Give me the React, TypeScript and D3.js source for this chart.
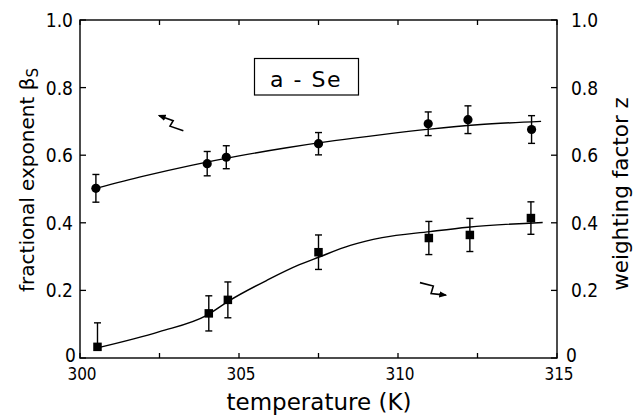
import React from "react";
import * as d3 from "d3";

const W = 635;
const H = 419;

// measured points: beta_S (circles)
const tempBeta = [300.5, 304.0, 304.6, 307.5, 310.95, 312.2, 314.2];
const betaVals = [0.502, 0.575, 0.594, 0.634, 0.693, 0.705, 0.676];
const betaErr = [0.041, 0.036, 0.034, 0.033, 0.035, 0.041, 0.041];

// measured points: z (squares)
const tempZ = [300.55, 304.05, 304.65, 307.5, 310.97, 312.26, 314.18];
const zVals = [0.033, 0.132, 0.172, 0.313, 0.355, 0.364, 0.414];
const zErrUp = [0.071, 0.052, 0.053, 0.051, 0.049, 0.049, 0.048];
const zErrLo = [0.0, 0.052, 0.053, 0.051, 0.049, 0.049, 0.048];

// fitted curves
const fitBetaT = [300.5, 302, 303.5, 305, 306.5, 308, 309.5, 311, 312.5, 314.5];
const fitBetaV = [0.502, 0.538, 0.57, 0.598, 0.622, 0.643, 0.661, 0.677, 0.69, 0.7];
const fitZT = [300.55, 302.5, 304, 304.7, 305.9, 306.9, 307.5, 308.5, 309.5, 311, 312.2, 314.55];
const fitZV = [0.03, 0.078, 0.127, 0.17, 0.231, 0.276, 0.298, 0.333, 0.356, 0.374, 0.387, 0.401];

// annotation arrows (data coords)
const arrowBetaT = [303.25, 302.83, 302.93, 302.49];
const arrowBetaV = [0.672, 0.686, 0.702, 0.717];
const arrowZT = [310.69, 311.11, 311.04, 311.5];
const arrowZV = [0.223, 0.213, 0.191, 0.186];

const xTicksMajor = [300, 305, 310, 315];
const xTicksAll = [300, 302.5, 305, 307.5, 310, 312.5, 315];
const yTicks = [0, 0.2, 0.4, 0.6, 0.8, 1.0];
const yTickLabelsLeft = ["0", "0.2", "0.4", "0.6", "0.8", "1.0"];
const yTickLabelsRight = ["0", "0.2", "0.4", "0.6", "0.8", "1.0"];

const FONT_TICK = "'DejaVu Sans Condensed', 'DejaVu Sans', sans-serif";
const FONT = "'DejaVu Sans', sans-serif";

export default function App() {
  const left = 80, right = 557, top = 20, bottom = 358;
  const x = d3.scaleLinear().domain([300, 315]).range([left, right]);
  const y = d3.scaleLinear().domain([0, 1]).range([bottom, top]);

  const lineGen = d3
    .line<[number, number]>()
    .x((d) => x(d[0]))
    .y((d) => y(d[1]))
    .curve(d3.curveMonotoneX);
  const plainLine = d3
    .line<[number, number]>()
    .x((d) => x(d[0]))
    .y((d) => y(d[1]));

  const betaFit = lineGen(fitBetaT.map((t, i) => [t, fitBetaV[i]]));
  const zFit = lineGen(fitZT.map((t, i) => [t, fitZV[i]]));
  const arrow1 = plainLine(arrowBetaT.map((t, i) => [t, arrowBetaV[i]]));
  const arrow2 = plainLine(arrowZT.map((t, i) => [t, arrowZV[i]]));

  const tickLen = 5;
  const cap = 3.5;
  const sq = 8.5;

  return (
    <svg
      width={W}
      height={H}
      style={{ position: "absolute", left: 0, top: 0, background: "#fff" }}
      fontFamily={FONT}
    >
      <defs>
        <marker id="ah" viewBox="0 0 10 10" refX="8" refY="5" markerWidth="5" markerHeight="5" orient="auto">
          <path d="M0,1 L10,5 L0,9 Z" fill="#000" />
        </marker>
      </defs>
      {/* frame */}
      <rect x={left} y={top} width={right - left} height={bottom - top} fill="none" stroke="#000" strokeWidth={1.4} />

      {/* x ticks */}
      {xTicksAll.map((t) => (
        <g key={"xt" + t}>
          <line x1={x(t)} x2={x(t)} y1={bottom} y2={bottom - tickLen} stroke="#000" strokeWidth={1.3} />
          <line x1={x(t)} x2={x(t)} y1={top} y2={top + tickLen} stroke="#000" strokeWidth={1.3} />
        </g>
      ))}
      {xTicksMajor.map((t) => (
        <text key={"xl" + t} x={x(t) + 2} y={380} fontSize={17} textAnchor="middle" fontFamily={FONT_TICK}>
          {String(t)}
        </text>
      ))}

      {/* y ticks */}
      {yTicks.map((v, i) => (
        <g key={"yt" + v} fontFamily={FONT_TICK}>
          <line x1={left} x2={left + 6} y1={y(v)} y2={y(v)} stroke="#000" strokeWidth={1.3} />
          <line x1={right} x2={right - 6} y1={y(v)} y2={y(v)} stroke="#000" strokeWidth={1.3} />
          {i > 0 && (
            <text x={73} y={y(v) + 7} fontSize={19} textAnchor="end">
              {yTickLabelsLeft[i]}
            </text>
          )}
          {i > 0 && (
            <text x={571} y={y(v) + 7} fontSize={19} textAnchor="start">
              {yTickLabelsRight[i]}
            </text>
          )}
        </g>
      ))}
      <text x={65} y={362} fontSize={19} textAnchor="start" fontFamily={FONT_TICK}>{yTickLabelsLeft[0]}</text>
      <text x={566} y={362} fontSize={19} textAnchor="start" fontFamily={FONT_TICK}>{yTickLabelsRight[0]}</text>

      {/* axis titles */}
      <text x={319} y={410} fontSize={23} textAnchor="middle">temperature (K)</text>
      <text transform={`translate(34,180) rotate(-90)`} fontSize={20} textAnchor="middle">
        fractional exponent β<tspan fontSize={15} dy={4}>S</tspan>
      </text>
      <text transform={`translate(628,194) rotate(-90)`} fontSize={21.5} textAnchor="middle">
        weighting factor z
      </text>

      {/* label box */}
      <rect x={254.5} y={58.5} width={104} height={36.5} fill="none" stroke="#000" strokeWidth={1.2} />
      <text x={306} y={87} fontSize={22} textAnchor="middle" letterSpacing={1.5}>a - Se</text>

      {/* fits */}
      <path d={betaFit || ""} fill="none" stroke="#000" strokeWidth={1.4} />
      <path d={zFit || ""} fill="none" stroke="#000" strokeWidth={1.4} />

      {/* beta points */}
      {tempBeta.map((t, i) => {
        const cx = x(t);
        const y1 = y(betaVals[i] + betaErr[i]);
        const y2 = y(betaVals[i] - betaErr[i]);
        return (
          <g key={"b" + i}>
            <line x1={cx} x2={cx} y1={y1} y2={y2} stroke="#000" strokeWidth={1.4} />
            <line x1={cx - cap} x2={cx + cap} y1={y1} y2={y1} stroke="#000" strokeWidth={1.4} />
            <line x1={cx - cap} x2={cx + cap} y1={y2} y2={y2} stroke="#000" strokeWidth={1.4} />
            <circle cx={cx} cy={y(betaVals[i])} r={4.6} fill="#000" />
          </g>
        );
      })}

      {/* z points */}
      {tempZ.map((t, i) => {
        const cx = x(t);
        const y1 = y(zVals[i] + zErrUp[i]);
        const y2 = y(zVals[i] - zErrLo[i]);
        return (
          <g key={"z" + i}>
            <line x1={cx} x2={cx} y1={y1} y2={y2} stroke="#000" strokeWidth={1.4} />
            <line x1={cx - cap} x2={cx + cap} y1={y1} y2={y1} stroke="#000" strokeWidth={1.4} />
            {zErrLo[i] > 0 && (
              <line x1={cx - cap} x2={cx + cap} y1={y2} y2={y2} stroke="#000" strokeWidth={1.4} />
            )}
            <rect x={cx - sq / 2} y={y(zVals[i]) - sq / 2} width={sq} height={sq} fill="#000" />
          </g>
        );
      })}

      {/* arrows */}
      <path d={arrow1 || ""} fill="none" stroke="#000" strokeWidth={1.6} markerEnd="url(#ah)" />
      <path d={arrow2 || ""} fill="none" stroke="#000" strokeWidth={1.6} markerEnd="url(#ah)" />
    </svg>
  );
}
